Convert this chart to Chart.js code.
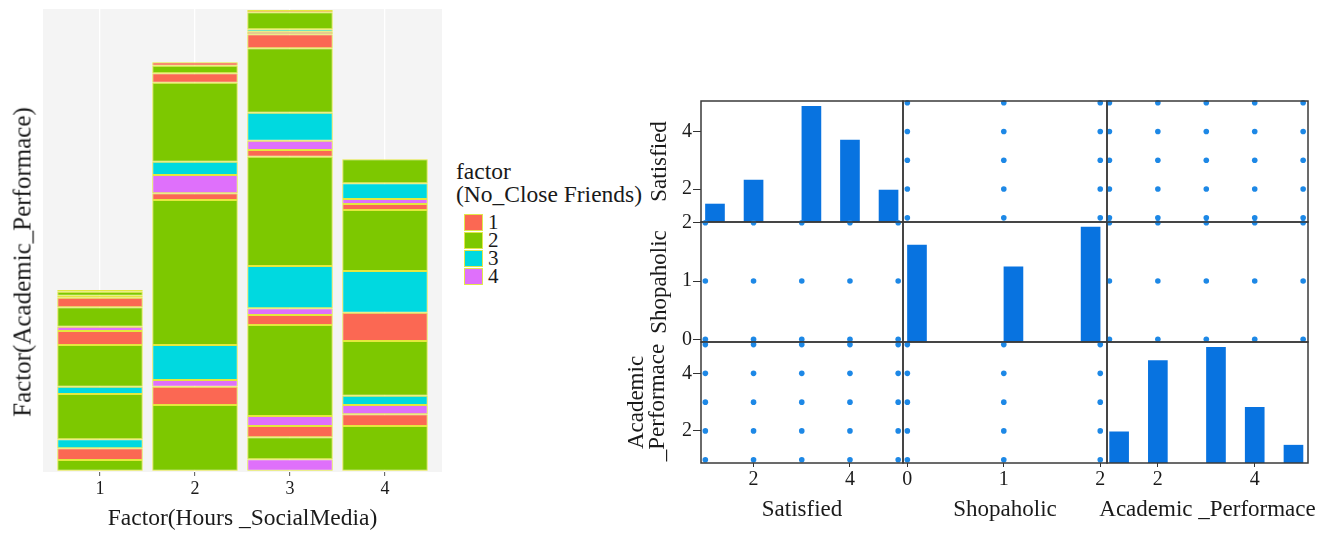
<!DOCTYPE html>
<html><head><meta charset="utf-8">
<script src="https://cdn.jsdelivr.net/npm/chart.js@4.4.1/dist/chart.umd.min.js"></script>
<style>
html,body{margin:0;padding:0;background:#fff;}
body{width:1335px;height:533px;position:relative;overflow:hidden;font-family:"Liberation Serif","Times New Roman",serif;color:#1a1a1a;}
canvas{position:absolute;}
.txt{position:absolute;white-space:nowrap;}
.key{position:absolute;width:19px;height:17px;box-sizing:border-box;border:1px solid #e2e84a;}
</style></head><body>
<canvas id="left" width="450" height="533" style="left:0;top:0"></canvas>
<div id="ytitle" class="txt" style="left:22px;top:262px;font-size:25px;line-height:25px;transform:translate(-50%,-50%) rotate(-90deg);">Factor(Academic_Performace)</div>
<div id="legend"></div>
<script>
// ---------- Left chart data (stack segments, bottom to top) ----------
const hours = [1, 2, 3, 4];
const friendLevels = ['1', '2', '3', '4'];
const friendColors = ['#fb6853', '#7dc800', '#00d9e0', '#df70fb'];
const seg1Levels = [2, 1, 3, 2, 3, 2, 1, 4, 2, 1, 4, 2, 1];
const seg1Sizes  = [10.7, 11.7, 9, 45.3, 7.3, 41.7, 14, 4.3, 19.4, 9.6, 2, 4, 1.7];
const seg2Levels = [2, 1, 4, 3, 2, 1, 4, 3, 2, 1, 2, 1];
const seg2Sizes  = [65.7, 18.3, 6.7, 35, 145, 6.7, 18.3, 13.3, 79, 9.4, 7.6, 3.4];
const seg3Levels = [4, 2, 1, 4, 2, 1, 4, 3, 2, 1, 4, 3, 2, 1, 4, 3, 2, 1];
const seg3Sizes  = [11.4, 22, 11.3, 10, 91, 10, 6.7, 42.3, 109.3, 6.7, 9.3, 28, 64.4, 14, 2.6, 2.4, 17, 2.3];
const seg4Levels = [2, 1, 4, 3, 2, 1, 3, 2, 1, 4, 3, 2];
const seg4Sizes  = [44.7, 11.7, 9.3, 9.3, 54.7, 28.3, 41.7, 61, 6, 5, 15.7, 24];
const leftXTitle = 'Factor(Hours _SocialMedia)';
const legendTitle = ['factor', '(No_Close Friends)'];

// ---------- Right matrix data ----------
const satisfiedBins = [1.2, 2.0, 3.2, 4.0, 4.8];
const satisfiedCounts = [9, 21, 58, 41, 16];
const shopaholicBins = [0.1, 1.1, 1.9];
const shopaholicCounts = [49, 38, 58];
const academicBins = [1.2, 2.0, 3.2, 4.0, 4.8];
const academicCounts = [14, 46, 52, 25, 8];
const satShopPairs = [[1,0],[1,1],[1,2],[2,0],[2,1],[2,2],[3,0],[3,1],[3,2],[4,0],[4,1],[4,2],[5,0],[5,1],[5,2]];
const satAcadPairs = [[1,1],[1,2],[1,3],[1,4],[1,5],[2,1],[2,2],[2,3],[2,4],[2,5],[3,1],[3,2],[3,3],[3,4],[3,5],[4,1],[4,2],[4,3],[4,4],[4,5],[5,1],[5,2],[5,3],[5,4],[5,5]];
const shopAcadPairs = [[0,1],[0,2],[0,3],[0,4],[0,5],[1,1],[1,2],[1,3],[1,4],[1,5],[2,1],[2,2],[2,3],[2,4],[2,5]];
const matrixXTitles = ['Satisfied', 'Shopaholic', 'Academic _Performace'];
const matrixYTitles = ['Satisfied', 'Shopaholic', ['Academic', '_Performace']];
const matrixTicks = [[2, 4], [0, 1, 2], [2, 4]];
const matrixXRanges = [[0.91, 5.10], [-0.045, 2.07], [0.95, 5.10]];
const matrixYRanges = [[0.855, 5.06], [-0.047, 2.014], [0.885, 5.09]];

const FONT = "'Liberation Serif','Times New Roman',serif";
const TXT = '#1a1a1a';

// ---------- Legend (HTML) ----------
(function(){
  const lg = document.getElementById('legend');
  const t = document.createElement('div');
  t.className = 'txt';
  t.style.cssText = 'left:456px;top:160px;font-size:23.5px;line-height:23px;';
  t.innerHTML = legendTitle.join('<br>');
  lg.appendChild(t);
  friendLevels.forEach((lv, i) => {
    const k = document.createElement('div');
    k.className = 'key';
    k.style.left = '464px'; k.style.top = (214 + 18 * i) + 'px';
    k.style.background = friendColors[i];
    lg.appendChild(k);
    const l = document.createElement('div');
    l.className = 'txt';
    l.style.cssText = 'left:488px;top:' + (213 + 18 * i) + 'px;font-size:21px;line-height:18px;';
    l.textContent = lv;
    lg.appendChild(l);
  });
})();

// ---------- Left stacked bar chart ----------
const segLevels = [seg1Levels, seg2Levels, seg3Levels, seg4Levels];
const segSizes = [seg1Sizes, seg2Sizes, seg3Sizes, seg4Sizes];
const maxSeg = Math.max(...segLevels.map(a => a.length));
const leftDatasets = [];
for (let k = 0; k < maxSeg; k++) {
  leftDatasets.push({
    type: 'bar',
    stack: 's',
    data: hours.map((h, i) => ({ x: h, y: k < segSizes[i].length ? segSizes[i][k] : null })),
    backgroundColor: hours.map((h, i) => k < segLevels[i].length ? friendColors[segLevels[i][k] - 1] : 'rgba(0,0,0,0)'),
    borderColor: '#e4e83e',
    borderWidth: 1,
    borderSkipped: false,
    barPercentage: 0.9,
    categoryPercentage: 1
  });
}
const panelBg = {
  id: 'panelBg',
  beforeDraw(chart) {
    const { ctx, chartArea: a } = chart;
    ctx.save();
    ctx.fillStyle = '#f4f4f4';
    ctx.fillRect(a.left, a.top, a.right - a.left, a.bottom - a.top);
    ctx.restore();
  }
};
new Chart(document.getElementById('left'), {
  type: 'bar',
  data: { datasets: leftDatasets },
  options: {
    responsive: false, animation: false,
    layout: { padding: { left: 43, top: 9, right: 8, bottom: 0 } },
    plugins: { legend: { display: false }, tooltip: { enabled: false } },
    scales: {
      x: {
        type: 'linear', min: 0.4, max: 4.6, offset: false,
        afterBuildTicks: s => { s.ticks = hours.map(v => ({ value: v })); },
        afterFit: s => { s.height = 61; },
        grid: { offset: false, color: '#ffffff', lineWidth: 1.3, drawTicks: true, tickColor: '#555', tickWidth: 1, tickLength: 4 },
        border: { display: false },
        ticks: { font: { family: FONT, size: 18 }, color: TXT, padding: 2, autoSkip: false, maxRotation: 0, callback: v => String(v) },
        title: { display: true, text: leftXTitle, font: { family: FONT, size: 23.5 }, color: TXT, padding: 0 }
      },
      y: { display: false, stacked: true, min: -1.3, max: 461.7 }
    }
  },
  plugins: [panelBg]
});

// ---------- Right scatterplot matrix ----------
const colX = [701, 903, 1107, 1308];
const rowY = [101, 222, 342, 463];
const M = 16, AY = 75, AX = 60;
const histBins = [satisfiedBins, shopaholicBins, academicBins];
const histCounts = [satisfiedCounts, shopaholicCounts, academicCounts];
const pairTable = { '0-1': satShopPairs, '0-2': satAcadPairs, '1-2': shopAcadPairs };
const BAR = '#0873e0', DOT = '#1d88e6';

const borderPlugin = {
  id: 'panelBorder',
  afterDraw(chart) {
    const { ctx, chartArea: a } = chart;
    ctx.save();
    ctx.strokeStyle = '#3a3a3a';
    ctx.lineWidth = 1.5;
    ctx.strokeRect(a.left, a.top, a.right - a.left, a.bottom - a.top);
    ctx.restore();
  }
};
// bottom-row axis titles may be wider than their panel, so draw them without a width limit
const xTitlePlugin = {
  id: 'xTitleFree',
  afterDraw(chart, args, opts) {
    if (!opts || !opts.text) return;
    const { ctx, chartArea: a } = chart;
    ctx.save();
    ctx.font = '23px ' + FONT;
    ctx.fillStyle = TXT;
    ctx.textAlign = 'center';
    ctx.textBaseline = 'middle';
    ctx.fillText(opts.text, (a.left + a.right) / 2, a.bottom + 47);
    ctx.restore();
  }
};

function pointsFor(r, c) {
  if (r < c) return pairTable[r + '-' + c].map(p => ({ x: p[1], y: p[0] }));
  return pairTable[c + '-' + r].map(p => ({ x: p[0], y: p[1] }));
}

function makePanel(r, c) {
  const leftCol = c === 0, bottomRow = r === 2;
  const cw = colX[c + 1] - colX[c], rh = rowY[r + 1] - rowY[r];
  const ay = leftCol ? AY : 0, ax = bottomRow ? AX : 0;
  const cv = document.createElement('canvas');
  cv.width = cw + 2 * M + ay;
  cv.height = rh + 2 * M + ax;
  cv.style.left = (colX[c] - M - ay) + 'px';
  cv.style.top = (rowY[r] - M) + 'px';
  document.body.appendChild(cv);

  const diag = r === c;
  const datasets = diag ? [{
    type: 'bar', yAxisID: 'yc',
    data: histBins[c].map((b, i) => ({ x: b, y: histCounts[c][i] })),
    backgroundColor: BAR, borderWidth: 0, barThickness: 19
  }] : [{
    type: 'scatter',
    data: pointsFor(r, c),
    backgroundColor: DOT, borderWidth: 0, pointRadius: 2.8, clip: false
  }];

  const scales = {
    x: {
      type: 'linear', min: matrixXRanges[c][0], max: matrixXRanges[c][1], offset: false,
      display: bottomRow,
      afterBuildTicks: s => { s.ticks = matrixTicks[c].map(v => ({ value: v })); },
      afterFit: s => { if (bottomRow) s.height = AX; },
      grid: { offset: false, drawOnChartArea: false, drawTicks: true, tickLength: 4, color: '#333', lineWidth: 1 },
      border: { display: false },
      ticks: { font: { family: FONT, size: 20 }, color: TXT, padding: 1, autoSkip: false, maxRotation: 0, callback: v => String(v) },
      title: { display: false }
    },
    y: {
      type: 'linear', position: 'left', min: matrixYRanges[r][0], max: matrixYRanges[r][1],
      display: leftCol,
      afterBuildTicks: s => { s.ticks = matrixTicks[r].map(v => ({ value: v })); },
      afterFit: s => { if (leftCol) s.width = AY; },
      grid: { drawOnChartArea: false, drawTicks: true, tickLength: 8, color: '#333', lineWidth: 1 },
      border: { display: false },
      ticks: { font: { family: FONT, size: 20 }, color: TXT, padding: 1, autoSkip: false, callback: v => String(v) },
      title: {
        display: true, text: matrixYTitles[r],
        font: { family: FONT, size: 23, lineHeight: r === 2 ? 0.913 : 1 },
        color: TXT, padding: { top: r === 2 ? 0.5 : 22.5, bottom: 0 }
      }
    }
  };
  if (diag) {
    scales.yc = { type: 'linear', display: false, min: 0, max: Math.max(...histCounts[c]) * 1.045 };
  }

  new Chart(cv, {
    type: diag ? 'bar' : 'scatter',
    data: { datasets },
    options: {
      responsive: false, animation: false,
      layout: { padding: M },
      plugins: {
        legend: { display: false }, tooltip: { enabled: false },
        xTitleFree: { text: bottomRow ? matrixXTitles[c] : '' }
      },
      scales
    },
    plugins: [borderPlugin, xTitlePlugin]
  });
}

for (let r = 0; r < 3; r++) for (let c = 0; c < 3; c++) makePanel(r, c);
</script>
</body></html>
